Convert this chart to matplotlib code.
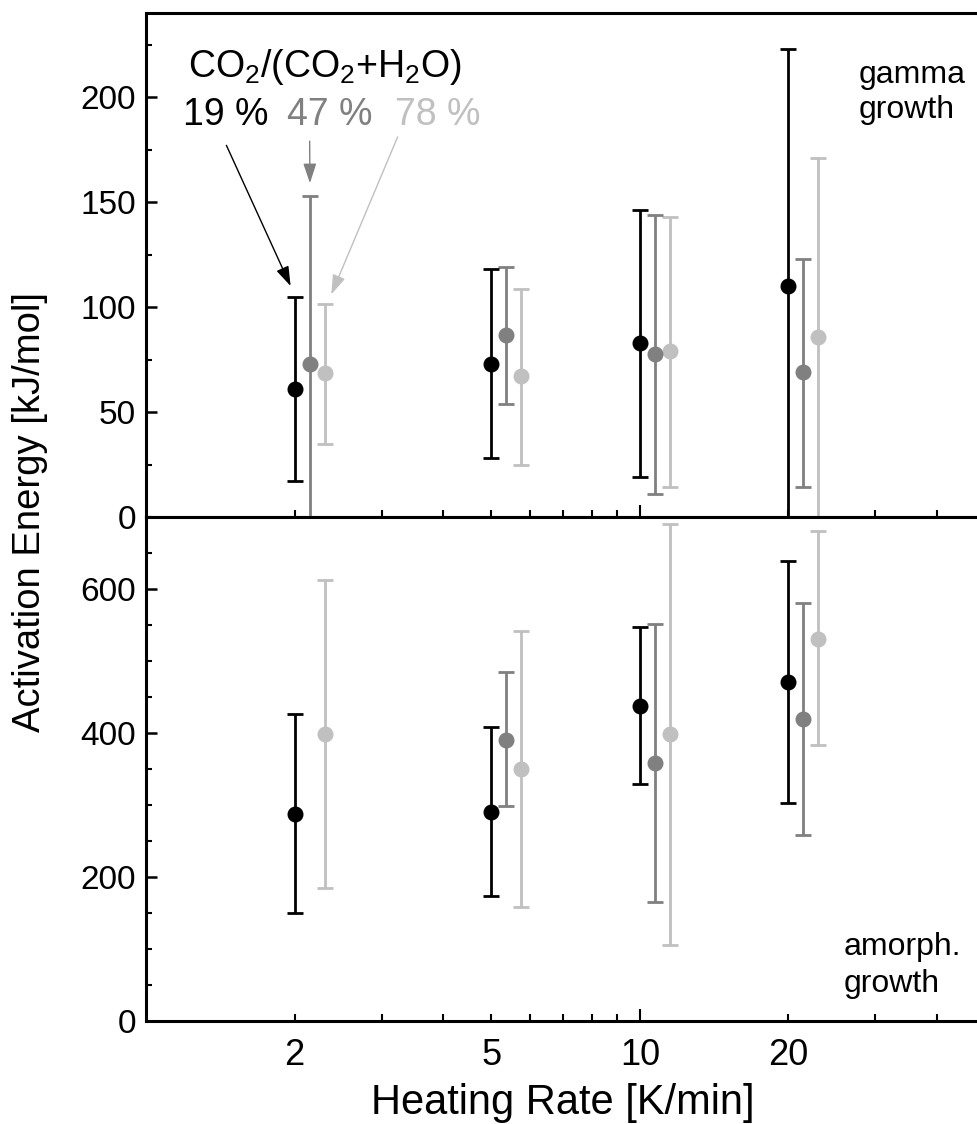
import matplotlib
matplotlib.use("Agg")
import matplotlib.pyplot as plt
from matplotlib.ticker import FixedLocator, FuncFormatter, MultipleLocator
import numpy as np

plt.rcParams['font.family'] = ['Liberation Sans', 'DejaVu Sans']
plt.rcParams['mathtext.fontset'] = 'custom'
plt.rcParams['mathtext.rm'] = 'Liberation Sans'
plt.rcParams['mathtext.it'] = 'Liberation Sans'

# heating rates [K/min]
rates = np.array([2, 5, 10, 20])
series = ["19 %", "47 %", "78 %"]  # CO2/(CO2+H2O)

# gamma growth: value, lower end, upper end of error bar
gamma_val = [[61, 73, 83, 110], [73, 86.5, 77.5, 69], [68.5, 67, 79, 85.5]]
gamma_lo = [[17, 28, 19, -10], [-10, 54, 11, 14.5], [35, 25, 14.5, 0]]
gamma_hi = [[105, 118, 146, 223], [153, 119, 144, 123], [101.5, 108.5, 143, 171]]

# amorph. growth (no 47 % value at 2 K/min)
amorph_val = [[288, 291, 438, 471], [np.nan, 391, 358, 419], [399, 350, 398, 531]]
amorph_lo = [[150, 173, 329, 303], [np.nan, 298, 165, 259], [185, 158, 106, 383]]
amorph_hi = [[426, 409, 547, 639], [np.nan, 485, 551, 580], [613, 542, 691, 680]]

colors = ["#000000", "#808080", "#c0c0c0"]
shift = [1.0, 1.072, 1.15]  # small horizontal offset of the series on the log axis

fig = plt.figure(figsize=(9.77, 11.24), dpi=100)
ax_top = fig.add_axes([0.1494, 0.540, 0.8588, 0.4484])
ax_bot = fig.add_axes([0.1494, 0.0916, 0.8588, 0.4484])


def draw(ax, val, lo, hi):
    for i in range(3):
        v = np.array(val[i], dtype=float)
        l = np.array(lo[i], dtype=float)
        h = np.array(hi[i], dtype=float)
        m = ~np.isnan(v)
        ax.errorbar(rates[m] * shift[i], v[m], yerr=[v[m] - l[m], h[m] - v[m]],
                    fmt='o', color=colors[i], ms=10.5, elinewidth=2,
                    capsize=6, capthick=2, zorder=3 - i * 0.1)


draw(ax_top, gamma_val, gamma_lo, gamma_hi)
draw(ax_bot, amorph_val, amorph_lo, amorph_hi)

for ax in (ax_top, ax_bot):
    ax.set_xscale('log')
    ax.set_xlim(1, 50)
    ax.xaxis.set_major_locator(FixedLocator([10]))
    ax.xaxis.set_minor_locator(FixedLocator([2, 3, 4, 5, 6, 7, 8, 9, 20, 30, 40]))
    ax.xaxis.set_major_formatter(FuncFormatter(lambda x, p: "10"))
    ax.xaxis.set_minor_formatter(FuncFormatter(lambda x, p: f"{x:g}" if x in (2, 5, 20) else ""))
    ax.tick_params(axis='x', which='major', direction='in', length=9, width=1.5,
                   labelsize=26, pad=12, top=False)
    ax.tick_params(axis='x', which='minor', direction='in', length=5, width=1.5,
                   labelsize=26, pad=12, top=False)
    ax.tick_params(axis='y', which='major', direction='in', length=8, width=1.8,
                   labelsize=24, pad=7, right=False)
    ax.tick_params(axis='y', which='minor', direction='in', length=4, width=1.5, right=False)
    for s in ax.spines.values():
        s.set_linewidth(2.2)

ax_top.tick_params(axis='x', which='both', labelbottom=False)
ax_top.set_ylim(0, 240)
ax_top.yaxis.set_major_locator(MultipleLocator(50))
ax_top.yaxis.set_minor_locator(MultipleLocator(25))

ax_bot.set_ylim(0, 700)
ax_bot.yaxis.set_major_locator(MultipleLocator(200))
ax_bot.yaxis.set_minor_locator(MultipleLocator(50))

# legend-like annotation
ax_top.text(0.050, 0.873, r"CO$_2$/(CO$_2$+H$_2$O)", transform=ax_top.transAxes,
            fontsize=27, va='baseline', ha='left')
for i, xf in enumerate([0.044, 0.168, 0.297]):
    ax_top.text(xf, 0.778, series[i], transform=ax_top.transAxes, fontsize=27,
                color=colors[i], va='baseline', ha='left')

arrows = [((1.455, 177), (1.963, 110)), ((2.145, 179), (2.148, 159)), ((3.233, 181), (2.373, 106))]
for i, (start, end) in enumerate(arrows):
    ax_top.annotate('', xy=end, xytext=start,
                    arrowprops=dict(arrowstyle='-|>,head_length=0.6,head_width=0.2',
                                    color=colors[i], lw=1, mutation_scale=20,
                                    shrinkA=0, shrinkB=0))

ax_top.text(0.849, 0.861, "gamma", transform=ax_top.transAxes, fontsize=23, va='baseline')
ax_top.text(0.849, 0.792, "growth", transform=ax_top.transAxes, fontsize=23, va='baseline')
ax_bot.text(0.831, 0.131, "amorph.", transform=ax_bot.transAxes, fontsize=23, va='baseline')
ax_bot.text(0.831, 0.058, "growth", transform=ax_bot.transAxes, fontsize=23, va='baseline')

fig.text(30 / 977, 1 - 512 / 1124, "Activation Energy [kJ/mol]", rotation=90,
         fontsize=27.5, ha='center', va='center')
fig.text(563 / 977, 1 - 1114 / 1124, "Heating Rate [K/min]", fontsize=30,
         ha='center', va='baseline')

fig.savefig("out.png", dpi=100)
